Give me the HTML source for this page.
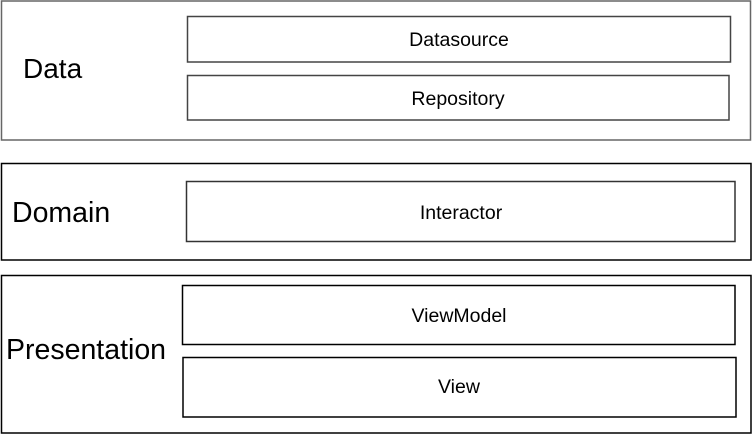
<!DOCTYPE html>
<html><head><meta charset="utf-8"><style>
html,body{margin:0;padding:0;background:#fff;width:753px;height:436px;overflow:hidden}
text{font-family:"Liberation Sans",Arial,sans-serif;fill:#000}
</style></head><body>
<svg width="753" height="436" viewBox="0 0 753 436" xmlns="http://www.w3.org/2000/svg">
<g fill="#fff" stroke-width="1.5">
<rect x="1.5" y="1" width="749" height="139" stroke="#666"/>
<rect x="187.5" y="16.5" width="543" height="45.5" stroke="#444"/>
<rect x="187.5" y="75.5" width="541.5" height="44.5" stroke="#444"/>
<rect x="1.5" y="163.5" width="749.5" height="96.5" stroke="#000"/>
<rect x="186.5" y="181.5" width="548.5" height="60" stroke="#333"/>
<rect x="1.5" y="275.5" width="749.5" height="157.5" stroke="#000"/>
<rect x="182.5" y="285.5" width="552.5" height="59" stroke="#000"/>
<rect x="183" y="357.5" width="553" height="59.5" stroke="#000"/>
</g>
<text x="23" y="78" font-size="28">Data</text>
<text x="12" y="222" font-size="28.5">Domain</text>
<text x="6" y="359" font-size="28.5">Presentation</text>
<g font-size="19.5" text-anchor="middle">
<text x="459" y="46">Datasource</text>
<text x="458" y="105">Repository</text>
<text x="461" y="219">Interactor</text>
<text x="459" y="322">ViewModel</text>
<text x="459" y="393">View</text>
</g>
</svg>
</body></html>
